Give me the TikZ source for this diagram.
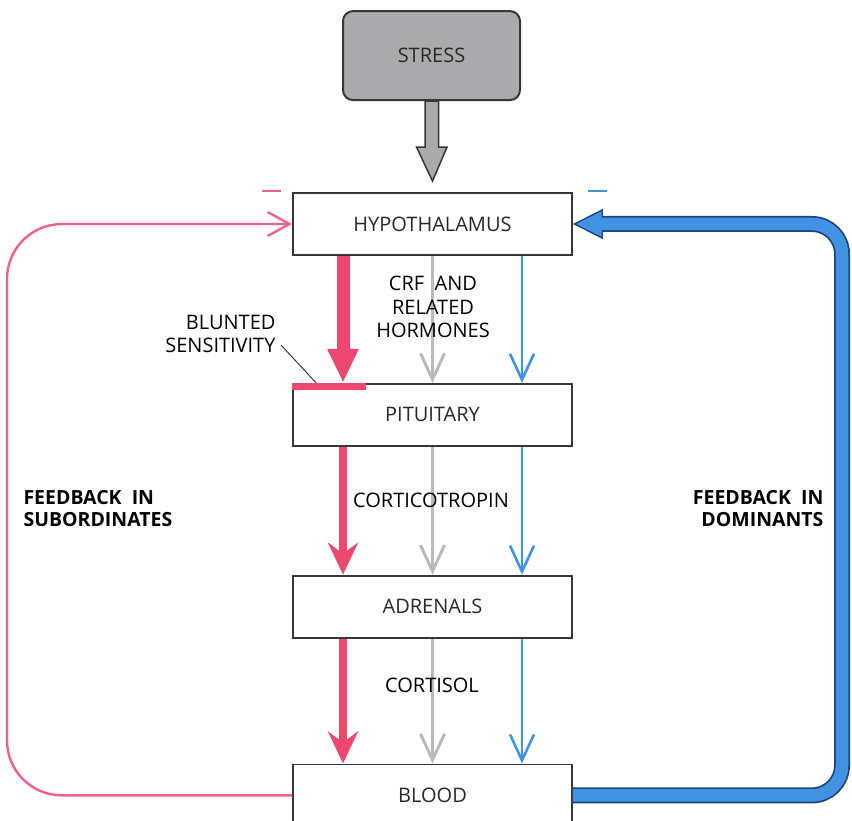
\documentclass[tikz,border=0pt]{standalone}
\usepackage{fontspec}
\setmainfont{Open Sans}
\usepackage{tikz}
\usetikzlibrary{arrows.meta,positioning,calc,backgrounds}
\usepackage{xcolor}
\definecolor{hred}{RGB}{236,72,112}
\definecolor{hpink}{RGB}{238,98,138}
\definecolor{hblue}{RGB}{66,146,228}
\definecolor{hbluedark}{RGB}{28,70,120}
\definecolor{hgray}{RGB}{186,186,186}
\definecolor{sgray}{RGB}{170,170,172}
\definecolor{boxline}{RGB}{55,55,55}
\definecolor{boxtext}{RGB}{40,40,40}

\begin{document}
\begin{tikzpicture}[
  x=1pt, y=-1pt,
  font=\fontsize{20}{23.5}\selectfont,
  blk/.style={draw=boxline, line width=1.8pt, rectangle, minimum width=279pt, minimum height=62pt, text=boxtext, inner sep=3pt},
  stressblk/.style={draw=boxline, line width=2pt, rounded corners=10pt, fill=sgray, minimum width=177pt, minimum height=89pt, text=boxtext},
  lbl/.style={align=center, text=black},
  fblbl/.style={font=\fontsize{19.5}{22}\selectfont\bfseries, text=black},
  redarr/.style={hred, line width=8pt, -{Stealth[length=32pt,width=30pt,inset=11pt]}},
  grayarr/.style={hgray, line width=3pt, -{Straight Barb[length=26pt,width=24pt]}},
  bluearr/.style={hblue, line width=2.6pt, -{Straight Barb[length=26pt,width=24pt]}},
  lane/.style={xshift=#1},
  node distance=4mm
]
\useasboundingbox (0,0) rectangle (852,821);

\node[blk] (hyp) at (432.5,224) {HYPOTHALAMUS};
\node[blk, below=127pt of hyp] (pit) {PITUITARY};
\node[blk, below=128pt of pit] (adr) {ADRENALS};
\node[blk, below=125pt of adr] (blood) {BLOOD};
\node[stressblk, above=91pt of hyp, xshift=-1pt] (stress) {STRESS};

\begin{pgfonlayer}{background}
\filldraw[fill=sgray, draw=boxline, line width=1.5pt]
  ($(stress.south)+(-6.5,0)$) -- ++(0,46) -- ++(-8.5,0) -- ($(hyp.north)+(0,-11)$)
  -- ($(stress.south)+(15.5,46)$) -- ++(-8.5,0) -- ++(0,-46) -- cycle;
\end{pgfonlayer}

% hormone cascade
\draw[redarr, line width=13pt, -{Triangle[length=34pt,width=29pt]}] ([lane=-89.5pt]hyp.south) -- ([lane=-89.5pt]pit.north);
\draw[redarr] ([lane=-89.5pt]pit.south) -- ([lane=-89.5pt]adr.north);
\draw[redarr] ([lane=-89.5pt]adr.south) -- ([lane=-89.5pt]blood.north);
\foreach \a/\b in {hyp/pit, pit/adr, adr/blood}{
  \draw[grayarr] ([lane=0pt]\a.south) -- ([lane=0pt]\b.north);
  \draw[bluearr] ([lane=89.5pt]\a.south) -- ([lane=89.5pt]\b.north);
}

\node[lbl] (crf) at (433,307) {CRF\ \ AND\\RELATED\\HORMONES};
\node[lbl] (acth) at (431,500) {CORTICOTROPIN};
\node[lbl] (cort) at (432,685) {CORTISOL};

% blunted sensitivity
\draw[hred, line width=7pt] ([yshift=-4pt]pit.north west) -- ++(74,0) coordinate (bar);
\node[align=right, anchor=east] (blunt) at (279,334) {BLUNTED\\SENSITIVITY};
\draw[boxline, line width=1pt] (281,345) -- ([xshift=24pt]pit.north west);

% feedback loops
\draw[hpink, line width=2.4pt, rounded corners=55pt, -{Straight Barb[length=22pt,width=24pt]}]
  (blood.west) -| (7,500) |- (hyp.west);
\draw[hbluedark, line width=16pt, rounded corners=30pt,
  -{Triangle[length=30pt,width=30pt,fill=hblue,line width=1.4pt]}]
  (blood.east) -| (842,500) |- (hyp.east);
\draw[hblue, line width=12.5pt, rounded corners=30pt, shorten >=28pt]
  (blood.east) -| (842,500) |- (hyp.east);
\draw[hpink, line width=2.6pt] ($(hyp.north west)+(-30,-1)$) -- ++(19,0);
\draw[hblue, line width=2.6pt] ($(hyp.north east)+(15,-1)$) -- ++(19,0);

\node[fblbl, align=left, anchor=west] (fbsub) at (20,509) {FEEDBACK\ \ IN\\SUBORDINATES};
\node[fblbl, align=right, anchor=east] (fbdom) at (827,509) {FEEDBACK\ \ IN\\DOMINANTS};
\end{tikzpicture}
\end{document}
